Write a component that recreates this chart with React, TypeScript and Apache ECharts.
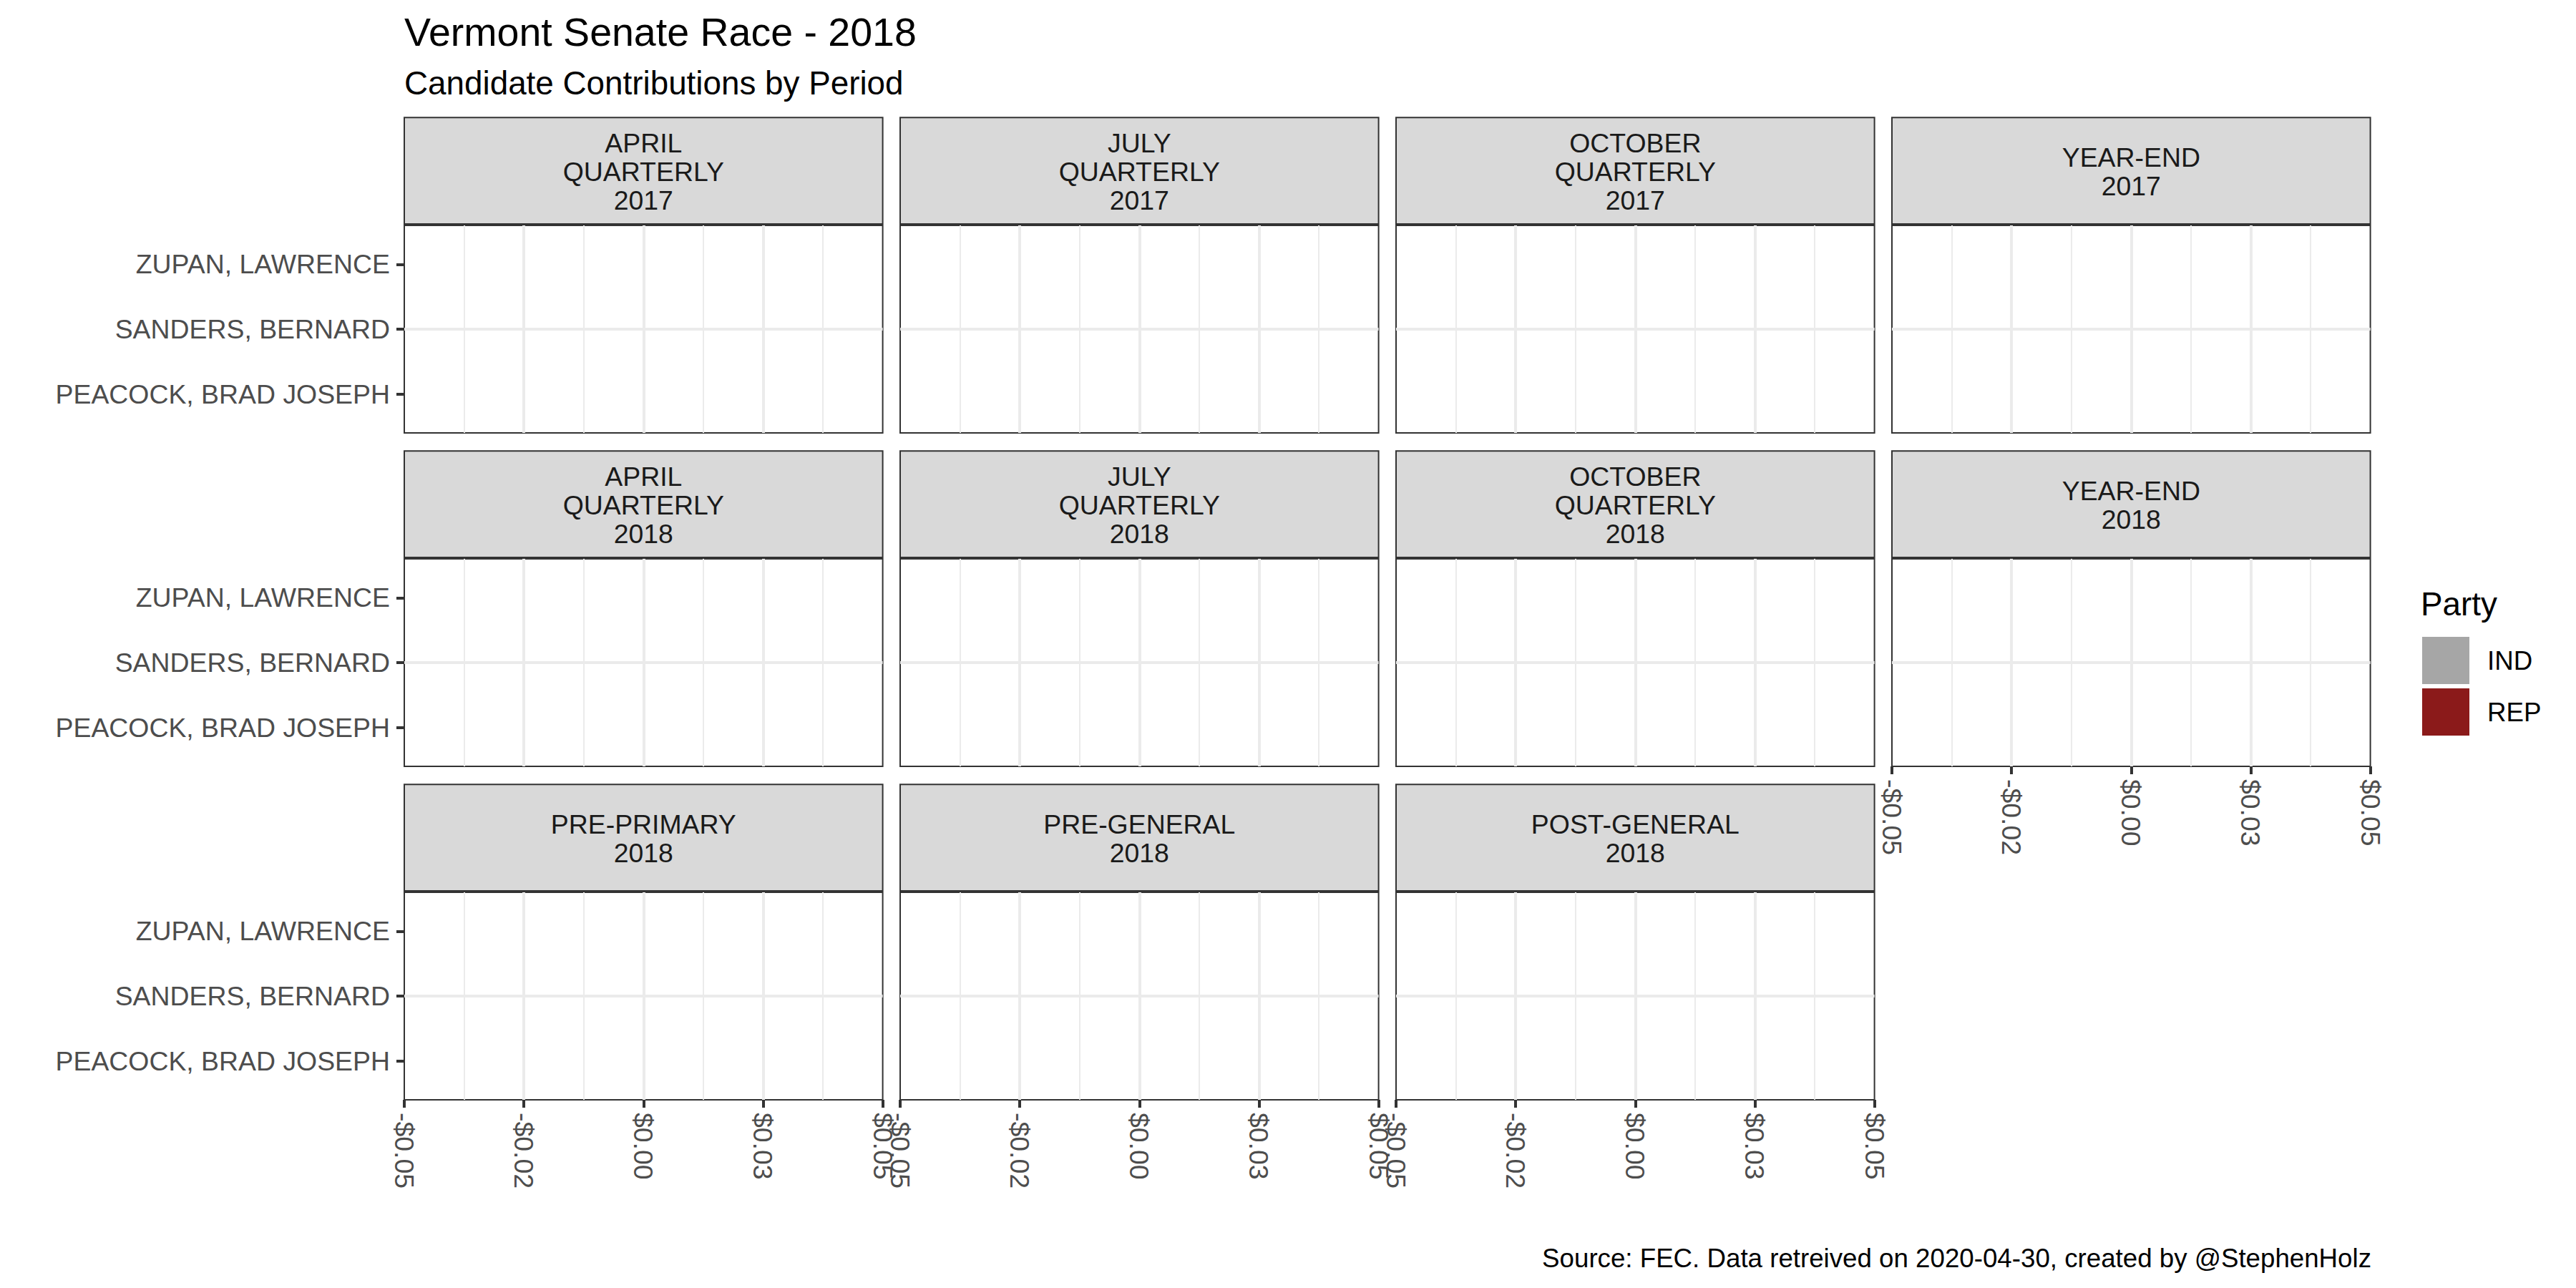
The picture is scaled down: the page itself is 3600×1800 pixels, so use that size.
import React, { useEffect, useRef } from "react";
import * as echarts from "echarts";

// ---------- data ----------
const candidates = ["PEACOCK, BRAD JOSEPH", "SANDERS, BERNARD", "ZUPAN, LAWRENCE"];
const candidateParty = ["IND", "IND", "REP"];
const parties = ["IND", "REP"];
const partyColors = ["#A6A6A6", "#8B1A1A"];
const periods = [
  "APRIL\nQUARTERLY\n2017",
  "JULY\nQUARTERLY\n2017",
  "OCTOBER\nQUARTERLY\n2017",
  "YEAR-END\n2017",
  "APRIL\nQUARTERLY\n2018",
  "JULY\nQUARTERLY\n2018",
  "OCTOBER\nQUARTERLY\n2018",
  "YEAR-END\n2018",
  "PRE-PRIMARY\n2018",
  "PRE-GENERAL\n2018",
  "POST-GENERAL\n2018",
];
// contributions (USD) per period, one array per candidate (nothing visible in the chart)
const peacockContrib = [0, 0, 0, 0, 0, 0, 0, 0, 0, 0, 0];
const sandersContrib = [0, 0, 0, 0, 0, 0, 0, 0, 0, 0, 0];
const zupanContrib = [0, 0, 0, 0, 0, 0, 0, 0, 0, 0, 0];
const contribByCandidate = [peacockContrib, sandersContrib, zupanContrib];

const xTickLabels = ["-$0.05", "-$0.02", "$0.00", "$0.03", "$0.05"];
const X_MIN = -0.05;
const X_MAX = 0.05;
const X_STEP = 0.025;

const titleText = "Vermont Senate Race - 2018";
const subtitleText = "Candidate Contributions by Period";
const captionText = "Source: FEC. Data retreived on 2020-04-30, created by @StephenHolz";
const legendTitle = "Party";

// ---------- layout ----------
const FONT = "'Liberation Sans', Arial, Helvetica, sans-serif";
const COLS = 4;
const PANEL_X0 = 565;
const PITCH_X = 693;
const PANEL_W = 668.6;
const PANEL_Y0 = 315;
const PITCH_Y = 466;
const PANEL_H = 290;
const STRIP_TOP0 = 164.3;
const STRIP_H = 148.7;
const AX_FS = 37.4;
const CAP_FS = 36.7;

function buildOption() {
  const grid: any[] = [];
  const xAxis: any[] = [];
  const yAxis: any[] = [];
  const series: any[] = [];
  const graphic: any[] = [];

  periods.forEach((p, i) => {
    const row = Math.floor(i / COLS);
    const col = i % COLS;
    const left = PANEL_X0 + col * PITCH_X;
    const top = PANEL_Y0 + row * PITCH_Y;
    const isBottom = i + COLS >= periods.length;
    const isLeft = col === 0;

    grid.push({
      left,
      top,
      width: PANEL_W,
      height: PANEL_H,
      show: true,
      backgroundColor: "#FFFFFF",
      borderColor: "#333333",
      borderWidth: 2,
      outerBoundsMode: "none",
      containLabel: false,
    });

    xAxis.push({
      type: "value",
      gridIndex: i,
      min: X_MIN,
      max: X_MAX,
      interval: X_STEP,
      axisLine: { show: false, onZero: false },
      axisTick: {
        show: isBottom,
        length: 11,
        lineStyle: { color: "#333333", width: 4 },
      },
      axisLabel: {
        show: isBottom,
        rotate: -90,
        margin: 18,
        fontSize: AX_FS,
        fontFamily: FONT,
        color: "#4D4D4D",
        formatter: (v: number) => xTickLabels[Math.round((v - X_MIN) / X_STEP)] ?? "",
      },
      splitLine: {
        show: true,
        showMinLine: false,
        showMaxLine: false,
        lineStyle: { color: "#EBEBEB", width: 4 },
      },
      minorTick: { show: false, splitNumber: 2 },
      minorSplitLine: { show: true, lineStyle: { color: "#EBEBEB", width: 2 } },
    });

    yAxis.push({
      type: "value",
      gridIndex: i,
      min: 0.4,
      max: 3.6,
      axisLine: { show: false, onZero: false },
      axisTick: {
        show: isLeft,
        customValues: [1, 2, 3],
        length: 11,
        lineStyle: { color: "#333333", width: 4 },
      },
      axisLabel: {
        show: isLeft,
        customValues: [1, 2, 3],
        margin: 20,
        fontSize: AX_FS,
        fontFamily: FONT,
        color: "#4D4D4D",
        formatter: (v: number) => candidates[Math.round(v) - 1] ?? "",
      },
      splitLine: {
        show: true,
        showMinLine: false,
        showMaxLine: false,
        lineStyle: { color: "#EBEBEB", width: 4 },
      },
    });

    parties.forEach((party, pi) => {
      const data: any[] = [];
      candidates.forEach((c, ci) => {
        if (candidateParty[ci] === party) data.push([contribByCandidate[ci][i], ci + 1]);
      });
      series.push({
        type: "custom",
        name: party,
        xAxisIndex: i,
        yAxisIndex: i,
        itemStyle: { color: partyColors[pi] },
        encode: { x: 0, y: 1 },
        data,
        renderItem: (params: any, api: any) => {
          const v = api.value(0);
          const yv = api.value(1);
          const p0 = api.coord([0, yv]);
          const p1 = api.coord([v, yv]);
          const h = api.size([0, 0.9])[1];
          return {
            type: "rect",
            shape: {
              x: Math.min(p0[0], p1[0]),
              y: p0[1] - h / 2,
              width: Math.abs(p1[0] - p0[0]),
              height: h,
            },
            style: { fill: api.visual("color") },
          };
        },
      });
    });

    // facet strip
    const stripTop = STRIP_TOP0 + row * PITCH_Y;
    graphic.push({
      type: "rect",
      shape: { x: left, y: stripTop, width: PANEL_W, height: STRIP_H },
      style: { fill: "#D9D9D9", stroke: "#333333", lineWidth: 2 },
      z: 5,
    });
    graphic.push({
      type: "text",
      x: left + PANEL_W / 2,
      y: stripTop + STRIP_H / 2 + 1,
      style: {
        text: p,
        fontSize: AX_FS,
        fontFamily: FONT,
        fill: "#1A1A1A",
        align: "center",
        verticalAlign: "middle",
        lineHeight: 40,
      },
      z: 6,
    });
  });

  graphic.push({
    type: "text",
    x: 565,
    y: 45,
    style: { text: titleText, fontSize: 55.5, fontFamily: FONT, fill: "#000000", align: "left", verticalAlign: "middle" },
  });
  graphic.push({
    type: "text",
    x: 565,
    y: 116,
    style: { text: subtitleText, fontSize: 45.8, fontFamily: FONT, fill: "#000000", align: "left", verticalAlign: "middle" },
  });
  graphic.push({
    type: "text",
    x: 3314,
    y: 1758,
    style: { text: captionText, fontSize: CAP_FS, fontFamily: FONT, fill: "#000000", align: "right", verticalAlign: "middle" },
  });
  graphic.push({
    type: "text",
    x: 3383,
    y: 844,
    style: { text: legendTitle, fontSize: 45.8, fontFamily: FONT, fill: "#000000", align: "left", verticalAlign: "middle" },
  });

  return {
    animation: false,
    backgroundColor: "#FFFFFF",
    textStyle: { fontFamily: FONT },
    grid,
    xAxis,
    yAxis,
    series,
    graphic,
    legend: {
      data: parties,
      orient: "vertical",
      left: 3385,
      top: 890,
      padding: 0,
      itemWidth: 66,
      itemHeight: 66,
      itemGap: 6,
      icon: "rect",
      selectedMode: false,
      textStyle: { fontSize: CAP_FS, fontFamily: FONT, color: "#000000", padding: [0, 0, 0, 20] },
    },
  };
}

export default function App() {
  const ref = useRef<HTMLDivElement>(null);
  useEffect(() => {
    if (!ref.current) return;
    const chart = echarts.init(ref.current, undefined, { renderer: "svg" });
    chart.setOption(buildOption() as any);
    return () => chart.dispose();
  }, []);
  return (
    <div
      ref={ref}
      style={{ position: "fixed", left: 0, top: 0, width: "3600px", height: "1800px", background: "#fff" }}
    />
  );
}
